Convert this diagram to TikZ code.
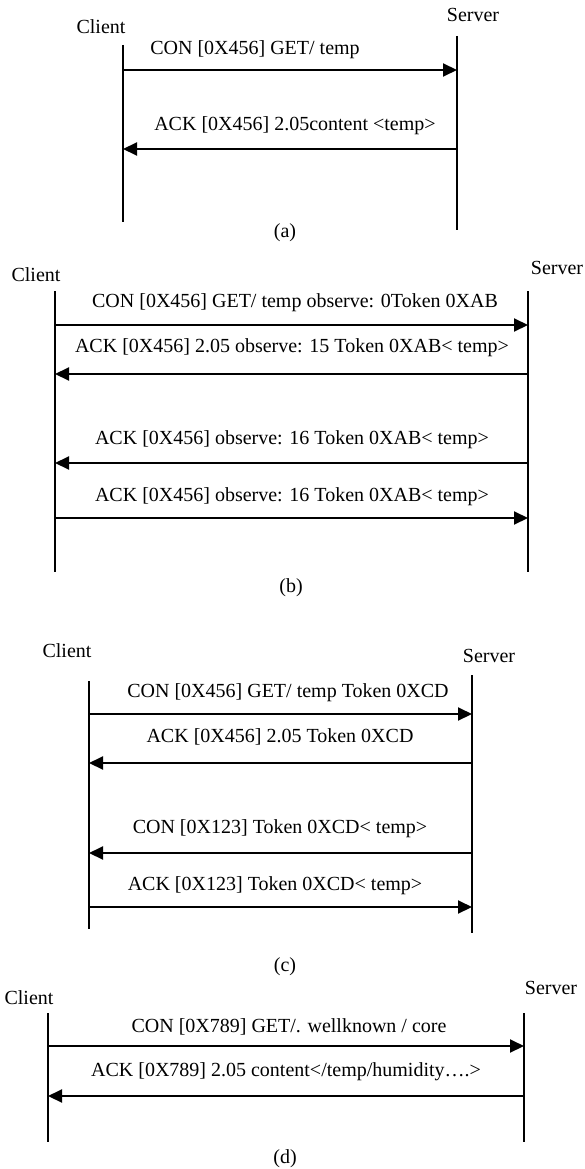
\documentclass[tikz,border=0pt]{standalone}
\usepackage{fontspec}
\setmainfont{Liberation Serif}
\usetikzlibrary{arrows.meta}
\begin{document}
\begin{tikzpicture}[x=1pt,y=-1pt,
  life/.style={line width=1.6pt},
  msg/.style={line width=2pt,-{Triangle[length=14pt,width=13pt]}},
  lbl/.style={inner sep=0pt,font=\fontsize{20}{24}\selectfont},
]
\useasboundingbox (0,0) rectangle (584,1169);

% ---------------- (a) simple GET ----------------
\node[lbl] (aClient) at (101,27) {Client};
\node[lbl] (aServer) at (473,15) {Server};
\coordinate (aCt) at (123,45);  \coordinate (aCb) at (123,222);
\coordinate (aSt) at (457,36);  \coordinate (aSb) at (457,230);
\draw[life] (aCt) -- (aCb);
\draw[life] (aSt) -- (aSb);
\coordinate (a1c) at (123,70);  \coordinate (a1s) at (457,70);
\coordinate (a2c) at (123,149); \coordinate (a2s) at (457,149);
\draw[msg] (a1c) -- (a1s);
\draw[msg] (a2s) -- (a2c);
\node[lbl] (aL1) at (255,50) {CON [0X456] GET/ temp};
\node[lbl] (aL2) at (295,126) {ACK [0X456] 2.05content <temp>};
\node[lbl] (aCap) at (285,233) {(a)};

% ---------------- (b) observe ----------------
\node[lbl] (bClient) at (36,275) {Client};
\node[lbl] (bServer) at (557,268) {Server};
\coordinate (bCt) at (55,291);  \coordinate (bCb) at (55,572);
\coordinate (bSt) at (528,291); \coordinate (bSb) at (528,572);
\draw[life] (bCt) -- (bCb);
\draw[life] (bSt) -- (bSb);
\coordinate (b1c) at (55,325); \coordinate (b1s) at (528,325);
\coordinate (b2c) at (55,374); \coordinate (b2s) at (528,374);
\coordinate (b3c) at (55,463); \coordinate (b3s) at (528,463);
\coordinate (b4c) at (55,518); \coordinate (b4s) at (528,518);
\draw[msg] (b1c) -- (b1s);
\draw[msg] (b2s) -- (b2c);
\draw[msg] (b3s) -- (b3c);
\draw[msg] (b4c) -- (b4s);
\node[lbl] (bL1) at (295,303) {CON [0X456] GET/ temp observe: 0Token 0XAB};
\node[lbl] (bL2) at (292,348) {ACK [0X456] 2.05 observe: 15 Token 0XAB< temp>};
\node[lbl] (bL3) at (292,440) {ACK [0X456] observe: 16 Token 0XAB< temp>};
\node[lbl] (bL4) at (292,497) {ACK [0X456] observe: 16 Token 0XAB< temp>};
\node[lbl] (bCap) at (291,588) {(b)};

% ---------------- (c) separate response ----------------
\node[lbl] (cClient) at (67,651) {Client};
\node[lbl] (cServer) at (489,656) {Server};
\coordinate (cCt) at (89,681);  \coordinate (cCb) at (89,929);
\coordinate (cSt) at (472,675); \coordinate (cSb) at (472,933);
\draw[life] (cCt) -- (cCb);
\draw[life] (cSt) -- (cSb);
\coordinate (c1c) at (89,714); \coordinate (c1s) at (472,714);
\coordinate (c2c) at (89,763); \coordinate (c2s) at (472,763);
\coordinate (c3c) at (89,853); \coordinate (c3s) at (472,853);
\coordinate (c4c) at (89,907); \coordinate (c4s) at (472,907);
\draw[msg] (c1c) -- (c1s);
\draw[msg] (c2s) -- (c2c);
\draw[msg] (c3s) -- (c3c);
\draw[msg] (c4c) -- (c4s);
\node[lbl] (cL1) at (288,693) {CON [0X456] GET/ temp Token 0XCD};
\node[lbl] (cL2) at (280,737) {ACK [0X456] 2.05 Token 0XCD};
\node[lbl] (cL3) at (280,829) {CON [0X123] Token 0XCD< temp>};
\node[lbl] (cL4) at (275,886) {ACK [0X123] Token 0XCD< temp>};
\node[lbl] (cCap) at (285,967) {(c)};

% ---------------- (d) resource discovery ----------------
\node[lbl] (dClient) at (29,998) {Client};
\node[lbl] (dServer) at (551,988) {Server};
\coordinate (dCt) at (48,1013);  \coordinate (dCb) at (48,1142);
\coordinate (dSt) at (524,1013); \coordinate (dSb) at (524,1142);
\draw[life] (dCt) -- (dCb);
\draw[life] (dSt) -- (dSb);
\coordinate (d1c) at (48,1046); \coordinate (d1s) at (524,1046);
\coordinate (d2c) at (48,1096); \coordinate (d2s) at (524,1096);
\draw[msg] (d1c) -- (d1s);
\draw[msg] (d2s) -- (d2c);
\node[lbl] (dL1) at (289,1027) {CON [0X789] GET/. wellknown / core};
\node[lbl] (dL2) at (286,1072) {ACK [0X789] 2.05 content</temp/humidity….>};
\node[lbl] (dCap) at (285,1159) {(d)};
\end{tikzpicture}
\end{document}
